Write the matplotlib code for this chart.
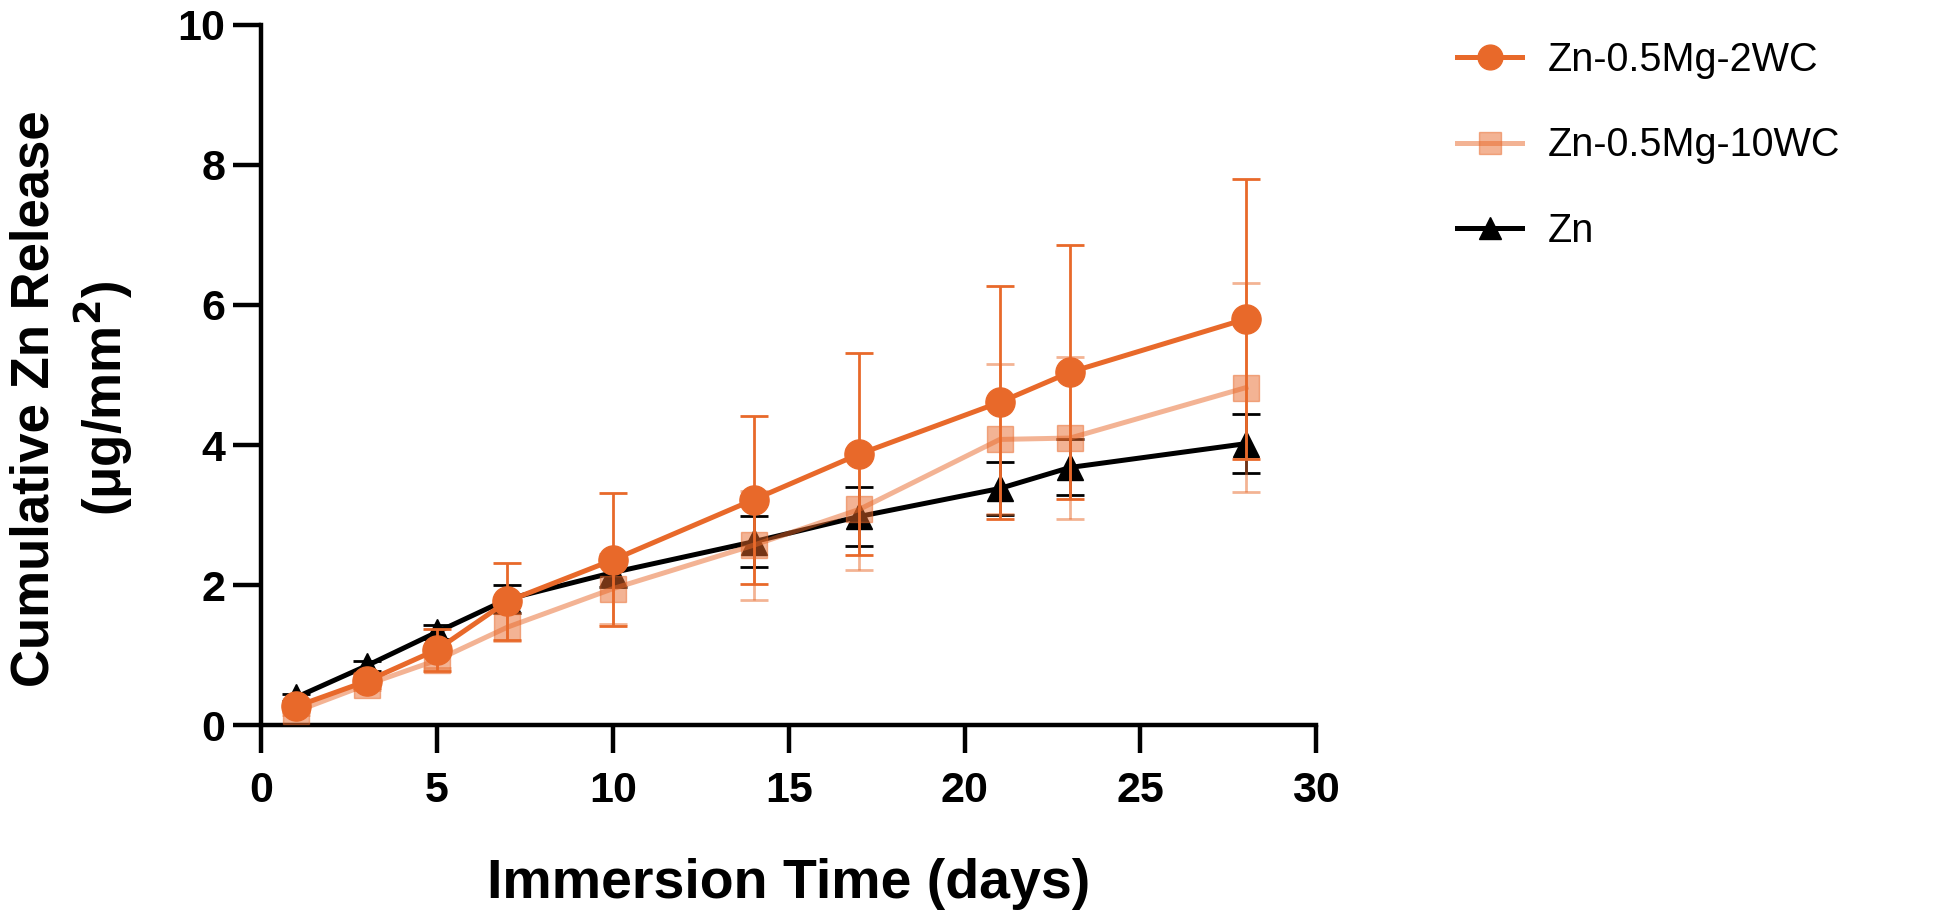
import matplotlib.pyplot as plt
from matplotlib.lines import Line2D

plt.rcParams['font.family'] = ['Liberation Sans', 'DejaVu Sans']

days = [1, 3, 5, 7, 10, 14, 17, 21, 23, 28]

wc2_mean = [0.27, 0.63, 1.08, 1.77, 2.36, 3.22, 3.87, 4.61, 5.04, 5.80]
wc2_sd = [0.08, 0.10, 0.30, 0.55, 0.95, 1.20, 1.44, 1.66, 1.81, 2.00]

wc10_mean = [0.20, 0.58, 0.93, 1.40, 1.95, 2.57, 3.08, 4.08, 4.10, 4.82]
wc10_sd = [0.05, 0.08, 0.12, 0.20, 0.50, 0.78, 0.87, 1.07, 1.16, 1.49]

zn_mean = [0.40, 0.85, 1.33, 1.80, 2.18, 2.62, 2.98, 3.38, 3.68, 4.02]
zn_sd = [0.05, 0.07, 0.10, 0.20, 0.20, 0.36, 0.42, 0.38, 0.40, 0.42]

ORANGE = '#E8692A'

fig = plt.figure(figsize=(19.5, 9.18), dpi=100)
ax = fig.add_axes([0.134, 0.21, 0.541, 0.763])

# name, mean, sd, colour, marker, marker size, alpha, zorder
series = [
    ("Zn", zn_mean, zn_sd, 'k', '^', 19, 1.0, 2),
    ("Zn-0.5Mg-10WC", wc10_mean, wc10_sd, ORANGE, 's', 19, 0.5, 3),
    ("Zn-0.5Mg-2WC", wc2_mean, wc2_sd, ORANGE, 'o', 21, 1.0, 4),
]
proxies = {}
for name, mean, sd, color, marker, ms, alpha, z in series:
    ax.errorbar(days, mean, yerr=sd, color=color, marker=marker, ms=ms,
                lw=3.6, elinewidth=2, capsize=10, capthick=2,
                alpha=alpha, zorder=z, clip_on=False)
    proxies[name] = Line2D([], [], color=color, marker=marker, ms=ms * 0.85,
                           lw=3.6, alpha=alpha)

ax.set_xlim(0, 30)
ax.set_ylim(0, 10)
ax.set_xticks([0, 5, 10, 15, 20, 25, 30])
ax.set_yticks([0, 2, 4, 6, 8, 10])
for s in ['top', 'right']:
    ax.spines[s].set_visible(False)
for s in ['left', 'bottom']:
    ax.spines[s].set_linewidth(3.2)
ax.tick_params(width=3.2, length=20, labelsize=31)
ax.tick_params(axis='x', pad=13)
ax.tick_params(axis='y', pad=6)
for lab in ax.get_xticklabels() + ax.get_yticklabels():
    lab.set_fontweight('bold')

ax.set_xlabel("Immersion Time (days)", fontsize=40, fontweight='bold', labelpad=34)
fig.text(0.037, 0.566, "Cumulative Zn Release\n(μg/mm$^\\mathbf{2}$)", fontsize=38,
         fontweight='bold', rotation=90, ha='center', va='center',
         linespacing=1.25, multialignment='center')

order = ["Zn-0.5Mg-2WC", "Zn-0.5Mg-10WC", "Zn"]
fig.legend([proxies[n] for n in order], order, loc='upper left',
           bbox_to_anchor=(0.747, 0.955), frameon=False, fontsize=28.5,
           borderpad=0, borderaxespad=0, labelspacing=1.19,
           handlelength=1.66, handletextpad=0.63)

fig.savefig('out.png', dpi=100)
